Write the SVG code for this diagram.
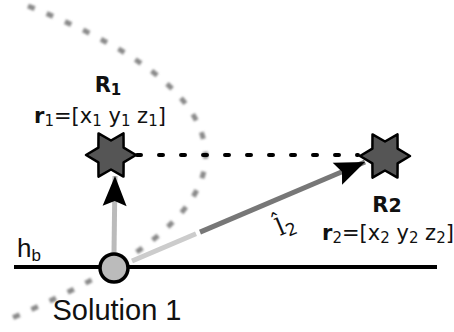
<svg xmlns="http://www.w3.org/2000/svg" width="454" height="332" viewBox="0 0 454 332">
<style>
.lbl{font-family:"DejaVu Sans",sans-serif;font-size:21px;fill:#111}
.b{font-weight:bold}
.sub{font-size:15px}
.star{fill:#555;stroke:#000;stroke-width:2.5;stroke-linejoin:round}
</style>
<defs>
<marker id="ah" markerUnits="userSpaceOnUse" viewBox="-32 -14 34 28" refX="0" refY="0" markerWidth="34" markerHeight="28" orient="auto">
<path d="M0,0 L-30,-12 L-25,0 L-30,12 Z" fill="#000"/>
</marker>
<filter id="blur" x="-10%" y="-10%" width="120%" height="120%"><feGaussianBlur stdDeviation="0.8"/></filter>
</defs>
<rect width="454" height="332" fill="#fff"/>
<g id="curve">
<path d="M28,6 Q215,80 205,165 Q195,240 12,318" fill="none" stroke="#8a8a8a" stroke-width="5" stroke-dasharray="7 13" filter="url(#blur)"/>
</g>
<g id="baseline-hb">
<line x1="14" y1="267" x2="437" y2="267" stroke="#000" stroke-width="4"/>
<text x="17" y="257" font-family="Liberation Sans, sans-serif" font-size="26" fill="#111">h<tspan font-size="17" dy="4">b</tspan></text>
</g>
<g id="connectors">
<line x1="137" y1="155" x2="358" y2="155" stroke="#000" stroke-width="4" stroke-linecap="round" stroke-dasharray="4 18"/>
<line x1="114" y1="253" x2="115" y2="176" stroke="#bbb" stroke-width="5" marker-end="url(#ah)"/>
<line x1="132" y1="261" x2="196" y2="233.8" stroke="#ccc" stroke-width="5"/>
<line x1="200" y1="232.1" x2="365" y2="162" stroke="#777" stroke-width="5" marker-end="url(#ah)"/>
<g transform="translate(280,236) rotate(-23)">
<text x="0" y="0" font-family="DejaVu Serif, serif" font-size="24" fill="#111">l<tspan font-family="DejaVu Sans, sans-serif" font-size="17" dy="4">2</tspan></text>
<text x="-3" y="-7" font-family="DejaVu Sans, sans-serif" font-size="22" fill="#111">ˆ</text>
</g>
</g>
<g id="solution1">
<circle cx="114" cy="268" r="14" fill="#bbb" stroke="#000" stroke-width="3.5"/>
<text x="117" y="320" text-anchor="middle" font-family="Liberation Sans, sans-serif" font-size="29" fill="#111">Solution 1</text>
</g>
<g id="R1">
<path class="star" transform="translate(111,155)" d="M25,0 L12.6,7.3 L12.5,21.6 L0,14.5 L-12.5,21.6 L-12.6,7.3 L-25,0 L-12.6,-7.3 L-12.5,-21.6 L0,-14.5 L12.5,-21.6 L12.6,-7.3 Z"/>
<text class="lbl b" x="108" y="92" text-anchor="middle">R<tspan class="sub" dy="3">1</tspan></text>
<text class="lbl" x="100" y="123" text-anchor="middle"><tspan class="b">r</tspan><tspan class="sub" dy="3">1</tspan><tspan dy="-3">=[x</tspan><tspan class="sub" dy="3">1</tspan><tspan dy="-3"> y</tspan><tspan class="sub" dy="3">1</tspan><tspan dy="-3"> z</tspan><tspan class="sub" dy="3">1</tspan><tspan dy="-3">]</tspan></text>
</g>
<g id="R2">
<path class="star" transform="translate(385,156)" d="M25,0 L12.6,7.3 L12.5,21.6 L0,14.5 L-12.5,21.6 L-12.6,7.3 L-25,0 L-12.6,-7.3 L-12.5,-21.6 L0,-14.5 L12.5,-21.6 L12.6,-7.3 Z"/>
<text class="lbl b" x="387" y="212" text-anchor="middle">R<tspan font-size="19">2</tspan></text>
<text class="lbl" x="388" y="240" text-anchor="middle"><tspan class="b">r</tspan><tspan class="sub" dy="3">2</tspan><tspan dy="-3">=[x</tspan><tspan class="sub" dy="3">2</tspan><tspan dy="-3"> y</tspan><tspan class="sub" dy="3">2</tspan><tspan dy="-3"> z</tspan><tspan class="sub" dy="3">2</tspan><tspan dy="-3">]</tspan></text>
</g>
</svg>
